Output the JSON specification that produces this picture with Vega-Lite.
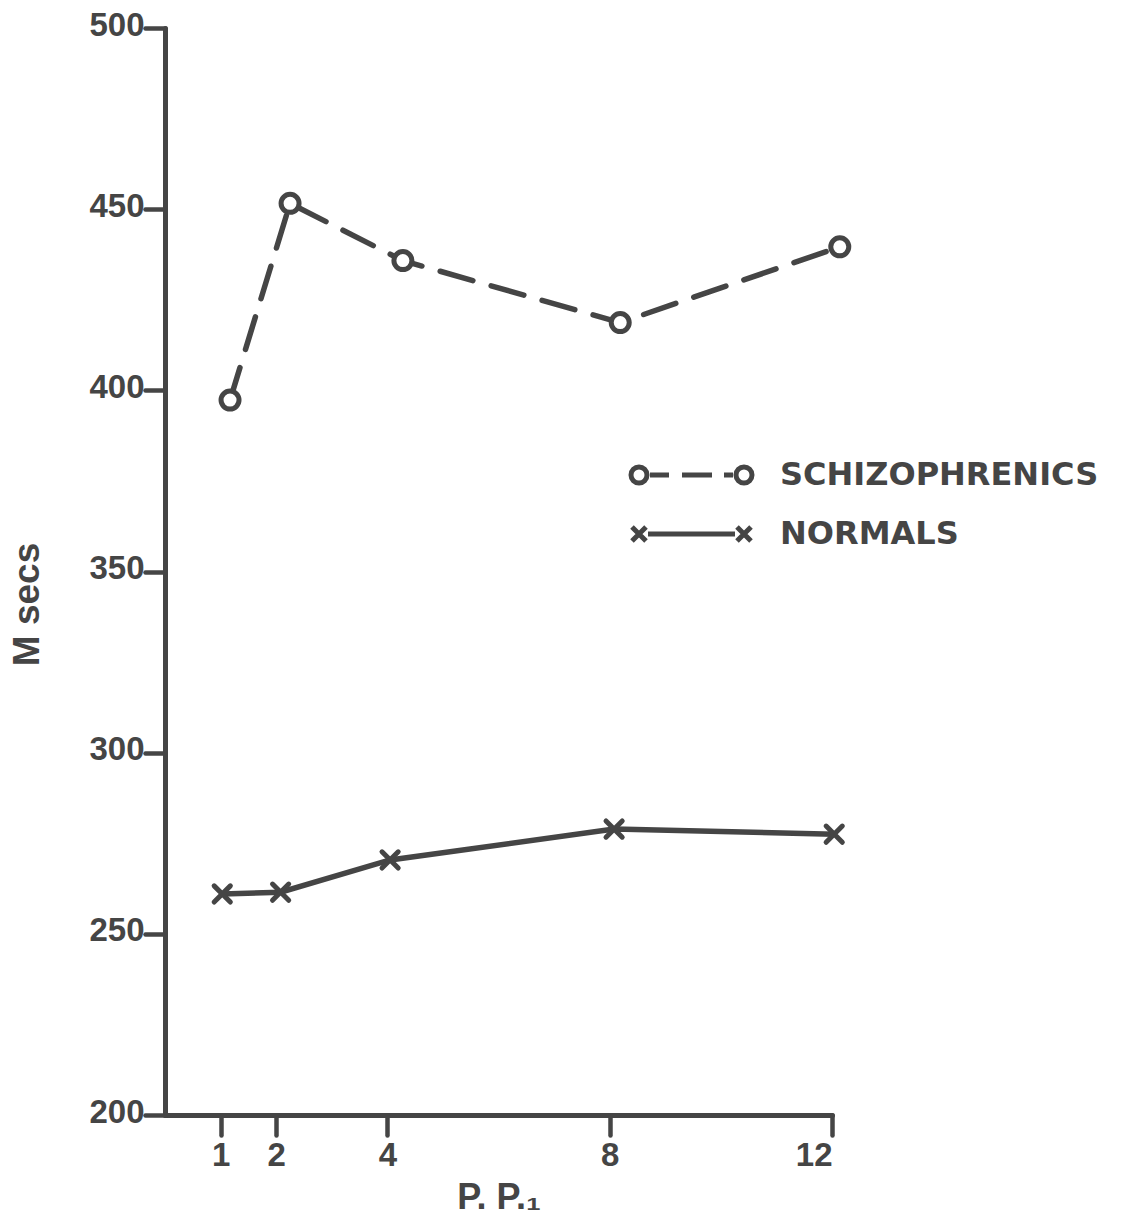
{
  "$schema": "https://vega.github.io/schema/vega-lite/v6.json",
  "width": 667,
  "height": 1087,
  "autosize": {"type": "none"},
  "padding": {"left": 165, "top": 28, "right": 309, "bottom": 108},
  "background": "white",
  "config": {"view": {"stroke": null}, "axis": {"grid": false}},
  "data": {
    "values": [
      {"group": "SCHIZOPHRENICS", "pp": 1.17, "msecs": 397.3},
      {"group": "SCHIZOPHRENICS", "pp": 2.25, "msecs": 451.6},
      {"group": "SCHIZOPHRENICS", "pp": 4.28, "msecs": 435.8},
      {"group": "SCHIZOPHRENICS", "pp": 8.19, "msecs": 418.7},
      {"group": "SCHIZOPHRENICS", "pp": 12.14, "msecs": 439.6},
      {"group": "NORMALS", "pp": 1.03, "msecs": 261.0},
      {"group": "NORMALS", "pp": 2.08, "msecs": 261.5},
      {"group": "NORMALS", "pp": 4.05, "msecs": 270.4},
      {"group": "NORMALS", "pp": 8.08, "msecs": 278.9},
      {"group": "NORMALS", "pp": 12.04, "msecs": 277.5}
    ]
  },
  "encoding": {
    "x": {
      "field": "pp", "type": "quantitative",
      "scale": {"domain": [0, 12], "nice": false, "zero": false},
      "axis": {
        "values": [1, 2, 4, 8, 12], "format": "d",
        "title": "P. P.₁",
        "tickSize": 20, "tickWidth": 4.5, "tickColor": "#454545", "tickCap": "round",
        "domainColor": "#454545", "domainWidth": 5, "domainCap": "round",
        "labelFont": "Liberation Sans", "labelFontWeight": "bold", "labelFontSize": 33,
        "labelColor": "#454545", "labelPadding": 4,
        "titleFont": "Liberation Sans", "titleFontWeight": "bold", "titleFontSize": 36,
        "titleColor": "#454545", "titlePadding": 8
      }
    },
    "y": {
      "field": "msecs", "type": "quantitative",
      "scale": {"domain": [200, 500], "nice": false, "zero": false},
      "axis": {
        "values": [200, 250, 300, 350, 400, 450, 500], "format": "d",
        "title": "M secs",
        "tickSize": 20, "tickWidth": 4.5, "tickColor": "#454545", "tickCap": "round",
        "domainColor": "#454545", "domainWidth": 5, "domainCap": "round",
        "labelFont": "Liberation Sans", "labelFontWeight": "bold", "labelFontSize": 33,
        "labelColor": "#454545", "labelPadding": 1, "labelOffset": -3,
        "titleFont": "Liberation Sans", "titleFontWeight": "bold", "titleFontSize": 37,
        "titleColor": "#454545", "titleX": -138, "titleY": 576, "titleBaseline": "middle", "titleAngle": -90
      }
    }
  },
  "layer": [
    {
      "transform": [{"filter": "datum.group === 'SCHIZOPHRENICS'"}],
      "mark": {"type": "line", "strokeWidth": 5.5, "strokeCap": "round", "color": "#454545", "strokeDash": [34, 19]}
    },
    {
      "transform": [{"filter": "datum.group === 'NORMALS'"}],
      "mark": {"type": "line", "strokeWidth": 5.5, "strokeCap": "round", "color": "#454545"}
    },
    {
      "mark": {"type": "point", "filled": true, "fill": "white", "stroke": "#454545", "strokeWidth": 5, "size": 324, "opacity": 1, "strokeCap": "round"},
      "encoding": {
        "shape": {
          "field": "group", "type": "nominal",
          "scale": {"domain": ["SCHIZOPHRENICS", "NORMALS"], "range": ["circle", "M-0.9,-0.9L0.9,0.9M-0.9,0.9L0.9,-0.9"]},
          "legend": null
        }
      }
    },
    {
      "mark": {"type": "point", "filled": false, "color": "#454545", "stroke": "#454545", "strokeWidth": 5, "opacity": 0, "size": 400},
      "encoding": {
        "shape": {
          "field": "group", "type": "nominal",
          "scale": {
            "domain": ["SCHIZOPHRENICS", "NORMALS"],
            "range": [
              "M-0.8,0A0.8,0.8,0,1,0,0.8,0A0.8,0.8,0,1,0,-0.8,0M1.1,0L3.0,0M4.3,0L7.3,0M8.5,0L9.4,0M9.7,0A0.8,0.8,0,1,0,11.3,0A0.8,0.8,0,1,0,9.7,0",
              "M-0.7,-0.7L0.7,0.7M-0.7,0.7L0.7,-0.7M0.9,0L9.6,0M9.8,-0.7L11.2,0.7M9.8,0.7L11.2,-0.7"
            ]
          },
          "legend": {
            "orient": "none", "legendX": 458, "legendY": 431,
            "title": null, "padding": 0,
            "symbolSize": 400, "symbolStrokeWidth": 5, "symbolStrokeColor": "#454545", "symbolFillColor": "transparent", "symbolOpacity": 1,
            "labelFont": "DejaVu Sans", "labelFontWeight": "bold", "labelFontSize": 32, "labelColor": "#454545",
            "labelOffset": 125, "rowPadding": 24, "labelLimit": 600,
            "encode": {
              "symbols": {
                "fill": {"value": "transparent"},
                "stroke": {"value": "#454545"},
                "strokeWidth": {"value": 5},
                "strokeCap": {"value": "round"},
                "opacity": {"value": 1}
              }
            }
          }
        }
      }
    }
  ],
  "resolve": {"scale": {"shape": "independent"}, "legend": {"shape": "independent"}}
}
